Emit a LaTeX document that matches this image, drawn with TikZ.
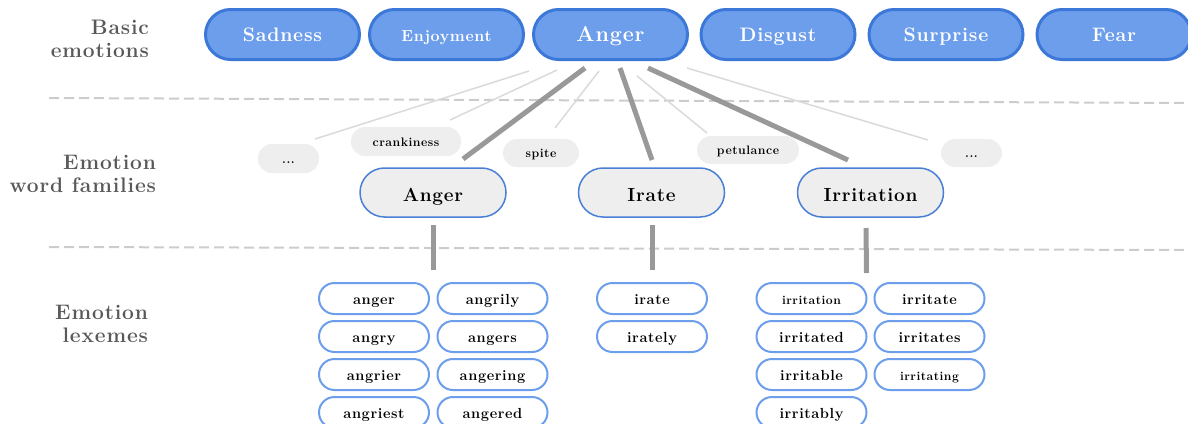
\documentclass[tikz,border=0pt]{standalone}
\usepackage{fontspec}
\setmainfont{Latin Modern Roman}[LetterSpace=4]
\definecolor{topfill}{HTML}{6D9EEB}
\definecolor{topdraw}{HTML}{3C78D8}
\definecolor{famfill}{HTML}{EEEEEE}
\definecolor{famdraw}{HTML}{4A7FD6}
\definecolor{lexdraw}{HTML}{6D9EEB}
\definecolor{labelgray}{HTML}{595959}
\definecolor{thickgray}{HTML}{999999}
\definecolor{thingray}{HTML}{DADADA}
\definecolor{dashgray}{HTML}{CCCCCC}
\tikzset{
  every node/.style={outer sep=0pt, inner sep=0pt},
  basicbox/.style={rectangle, rounded corners=25pt, fill=topfill, draw=topdraw, line width=3pt,
    minimum width=154pt, minimum height=50pt, text height=14pt, text depth=0.6pt,
    text=white, font=\bfseries\fontsize{19.5}{22}\selectfont},
  fambox/.style={rectangle, rounded corners=24.5pt, fill=famfill, draw=famdraw, line width=1.5pt,
    minimum width=146pt, minimum height=49pt, text height=19pt, text depth=0.6pt,
    font=\bfseries\fontsize{19}{22}\selectfont},
  wordbox/.style={rectangle, rounded corners=14pt, fill=famfill,
    minimum height=29pt, text height=9.5pt, text depth=0.5pt,
    font=\bfseries\fontsize{12.3}{14}\selectfont},
  lexbox/.style={rectangle, rounded corners=15.5pt, fill=white, draw=lexdraw, line width=2pt,
    minimum width=110pt, minimum height=31pt, text height=12pt, text depth=0.4pt,
    font=\bfseries\fontsize{14.6}{17}\selectfont},
  smalllex/.style={font=\bfseries\fontsize{12.2}{14}\selectfont},
  levellabel/.style={align=right, anchor=east, text=labelgray, font=\bfseries\fontsize{21}{23}\selectfont},
  strongline/.style={draw=thickgray, line width=5pt},
  weakline/.style={draw=thingray, line width=1.5pt},
  dashline/.style={draw=dashgray, line width=2pt, dash pattern=on 10pt off 5pt},
}
\begin{document}
\begin{tikzpicture}[x=1pt, y=-1pt]
\useasboundingbox (0,0) rectangle (1188,423);
% level labels
\node[levellabel] (lb1) at (149,39) {Basic\\emotions};
\node[levellabel] (lb2) at (156,174) {Emotion\\word families};
\node[levellabel] (lb3) at (148,324) {Emotion\\lexemes};
% dashed separators
\draw[dashline] (49,98) -- (1188,103);
\draw[dashline] (49,247) -- (1188,250);
% basic emotions
\node[basicbox] (tSad) at (282.5,34.5) {Sadness};
\node[basicbox, font=\bfseries\fontsize{16}{19}\selectfont] (tEnj) at (446.5,34.5) {Enjoyment};
\node[basicbox, font=\bfseries\fontsize{21.5}{24}\selectfont, text height=15pt] (tAng) at (610.5,34.5) {Anger};
\node[basicbox] (tDis) at (778,34.5) {Disgust};
\node[basicbox] (tSur) at (946,34.5) {Surprise};
\node[basicbox] (tFea) at (1114,34.5) {Fear};
% word families and other words
\node[wordbox, minimum width=61pt] (dotsL) at (288.5,158.5) {...};
\node[wordbox, minimum width=110pt] (crank) at (406,141.5) {crankiness};
\node[wordbox, minimum width=76pt, minimum height=28pt] (spite) at (541,153) {spite};
\node[wordbox, minimum width=102pt, minimum height=28pt] (petul) at (748,150) {petulance};
\node[wordbox, minimum width=61pt, minimum height=28pt] (dotsR) at (971.5,153) {...};
\node[fambox] (mAng) at (433,192.5) {Anger};
\node[fambox] (mIra) at (651.5,192.5) {Irate};
\node[fambox] (mIrr) at (870.5,192.5) {Irritation};
% connectors from basic Anger
\draw[weakline] ([shift={(-81.5,36.5)}]tAng.center) -- ([shift={(26.5,-19.5)}]dotsL.center);
\draw[weakline] ([shift={(-53.5,35.5)}]tAng.center) -- ([shift={(44,-21.5)}]crank.center);
\draw[weakline] ([shift={(-11.5,36.5)}]tAng.center) -- ([shift={(14,-25)}]spite.center);
\draw[weakline] ([shift={(26.5,41.5)}]tAng.center) -- ([shift={(-41,-17)}]petul.center);
\draw[weakline] ([shift={(76.5,33.5)}]tAng.center) -- ([shift={(-43.5,-13)}]dotsR.center);
\draw[strongline] ([shift={(-25.5,33.5)}]tAng.center) -- ([shift={(30,-33.5)}]mAng.center);
\draw[strongline] ([shift={(9.5,33.5)}]tAng.center) -- ([shift={(0.5,-32.5)}]mIra.center);
\draw[strongline] ([shift={(37.5,33.5)}]tAng.center) -- ([shift={(-22.5,-32.5)}]mIrr.center);
% lexemes
\node[lexbox] (l11) at (374,298.5) {anger};
\node[lexbox] (l12) at (374,336.5) {angry};
\node[lexbox] (l13) at (374,374.5) {angrier};
\node[lexbox] (l14) at (374,412.5) {angriest};
\node[lexbox] (l21) at (492.5,298.5) {angrily};
\node[lexbox] (l22) at (492.5,336.5) {angers};
\node[lexbox] (l23) at (492.5,374.5) {angering};
\node[lexbox] (l24) at (492.5,412.5) {angered};
\node[lexbox] (l31) at (652,298.5) {irate};
\node[lexbox] (l32) at (652,336.5) {irately};
\node[lexbox, smalllex] (l41) at (811.5,298.5) {irritation};
\node[lexbox] (l42) at (811.5,336.5) {irritated};
\node[lexbox] (l43) at (811.5,374.5) {irritable};
\node[lexbox] (l44) at (811.5,412.5) {irritably};
\node[lexbox] (l51) at (929.5,298.5) {irritate};
\node[lexbox] (l52) at (929.5,336.5) {irritates};
\node[lexbox, smalllex] (l53) at (929.5,374.5) {irritating};
% family to lexemes
\draw[strongline] ([shift={(0,32.5)}]mAng.center) -- ([shift={(59,-28.5)}]l11.center);
\draw[strongline] ([shift={(0.5,32.5)}]mIra.center) -- ([shift={(0,-28.5)}]l31.center);
\draw[strongline] ([shift={(-4.5,35.5)}]mIrr.center) -- ([shift={(55,-25.5)}]l41.center);
\end{tikzpicture}
\end{document}
